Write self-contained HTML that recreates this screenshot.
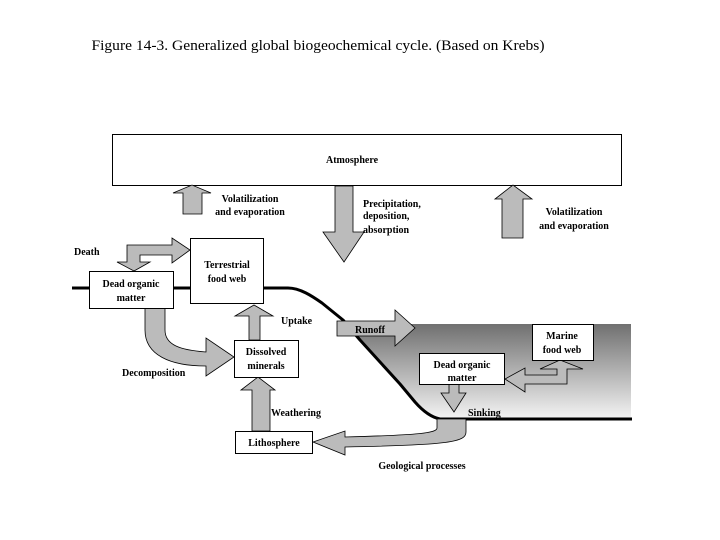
<!DOCTYPE html>
<html><head><meta charset="utf-8"><style>
html,body{margin:0;padding:0;background:#fff;}
svg{display:block;}
text{font-family:"Liberation Serif",serif;font-weight:bold;font-size:10px;fill:#000;}
</style></head><body>
<svg width="720" height="540" viewBox="0 0 720 540" xmlns="http://www.w3.org/2000/svg">
<defs>
<linearGradient id="sea" x1="0" y1="0" x2="0" y2="1">
<stop offset="0" stop-color="#707070"/><stop offset="1" stop-color="#f4f4f4"/>
</linearGradient>
</defs>
<text x="318" y="50" text-anchor="middle" style="font-weight:normal;font-size:15px" textLength="453" lengthAdjust="spacingAndGlyphs">Figure 14-3. Generalized global biogeochemical cycle. (Based on Krebs)</text>

<!-- ocean -->
<path d="M347,324 L631,324 L631,419 L440,419 C430,417 422,410 415,402 L400,384 L380,362 L360,340 Z" fill="url(#sea)"/>
<!-- ground line -->
<path d="M72,288 L288,288 C300,288 312,296 322,303 L343,320 L360,340 L380,362 L400,384 L415,402 C422,410 430,417 440,419 L632,419" fill="none" stroke="#000" stroke-width="3" stroke-linejoin="round"/>

<!-- Atmosphere -->
<rect x="112.5" y="134.5" width="509" height="51" fill="#fff" stroke="#000"/>
<text x="352" y="163" text-anchor="middle">Atmosphere</text>

<g fill="#bbb" stroke="#000" stroke-width="0.8">
<path d="M183,214 L183,193 L173,193 L192,185 L211,193 L202,193 L202,214 Z"/>
<path d="M335,186 L353,186 L353,232 L364,232 L344,262 L323,232 L335,232 Z"/>
<path d="M502,238 L502,199 L495,199 L513,185 L532,199 L523,199 L523,238 Z"/>
<path d="M127,262 L127,245 L172,245 L172,238 L190,250 L172,263 L172,255 L140,255 L140,262 L150,262 L134,271 L117,262 Z"/>
<path d="M145,308 L165,308 L165,330 C165,345 180,350 206,352 L206,338 L234,357 L206,376 L206,366 C170,366 145,355 145,330 Z"/>
<path d="M249,340 L249,316 L235,316 L254,305 L273,316 L260,316 L260,340 Z"/>
<path d="M252,431 L252,390 L241,390 L258,377 L275,390 L270,390 L270,431 Z"/>
<path d="M337,321 L395,321 L395,310 L415,328 L395,346 L395,336 L337,336 Z"/>
<path d="M557,369 L540,369 L560,360 L583,369 L567,369 L567,384 L525,384 L525,392 L505,379 L525,368 L525,375 L557,375 Z"/>
<path d="M449,384 L459,384 L459,393 L466,393 L454,412 L441,393 L449,393 Z"/>
<path d="M437,419 L466,419 L466,432 C466,442 450,445 345,447 L345,455 L313,442 L345,431 L345,437 C420,435 437,433 437,428 Z"/>
</g>

<g fill="#fff" stroke="#000">
<rect x="89.5" y="271.5" width="84" height="37"/>
<rect x="190.5" y="238.5" width="73" height="65"/>
<rect x="234.5" y="340.5" width="64" height="37"/>
<rect x="235.5" y="431.5" width="77" height="22"/>
<rect x="532.5" y="324.5" width="61" height="36"/>
<rect x="419.5" y="353.5" width="85" height="31"/>
</g>

<text x="250" y="202" text-anchor="middle">Volatilization</text>
<text x="250" y="215" text-anchor="middle">and evaporation</text>
<text x="363" y="207">Precipitation,</text>
<text x="363" y="219">deposition,</text>
<text x="363" y="233">absorption</text>
<text x="574" y="215" text-anchor="middle">Volatilization</text>
<text x="574" y="229" text-anchor="middle">and evaporation</text>
<text x="74" y="255">Death</text>
<text x="131" y="287" text-anchor="middle">Dead organic</text>
<text x="131" y="301" text-anchor="middle">matter</text>
<text x="227" y="268" text-anchor="middle">Terrestrial</text>
<text x="227" y="282" text-anchor="middle">food web</text>
<text x="281" y="324">Uptake</text>
<text x="355" y="333">Runoff</text>
<text x="266" y="355" text-anchor="middle">Dissolved</text>
<text x="266" y="369" text-anchor="middle">minerals</text>
<text x="122" y="376">Decomposition</text>
<text x="271" y="416">Weathering</text>
<text x="274" y="446" text-anchor="middle">Lithosphere</text>
<text x="562" y="339" text-anchor="middle">Marine</text>
<text x="562" y="353" text-anchor="middle">food web</text>
<text x="462" y="368" text-anchor="middle">Dead organic</text>
<text x="462" y="381" text-anchor="middle">matter</text>
<text x="468" y="416">Sinking</text>
<text x="422" y="469" text-anchor="middle">Geological processes</text>
</svg>
</body></html>
